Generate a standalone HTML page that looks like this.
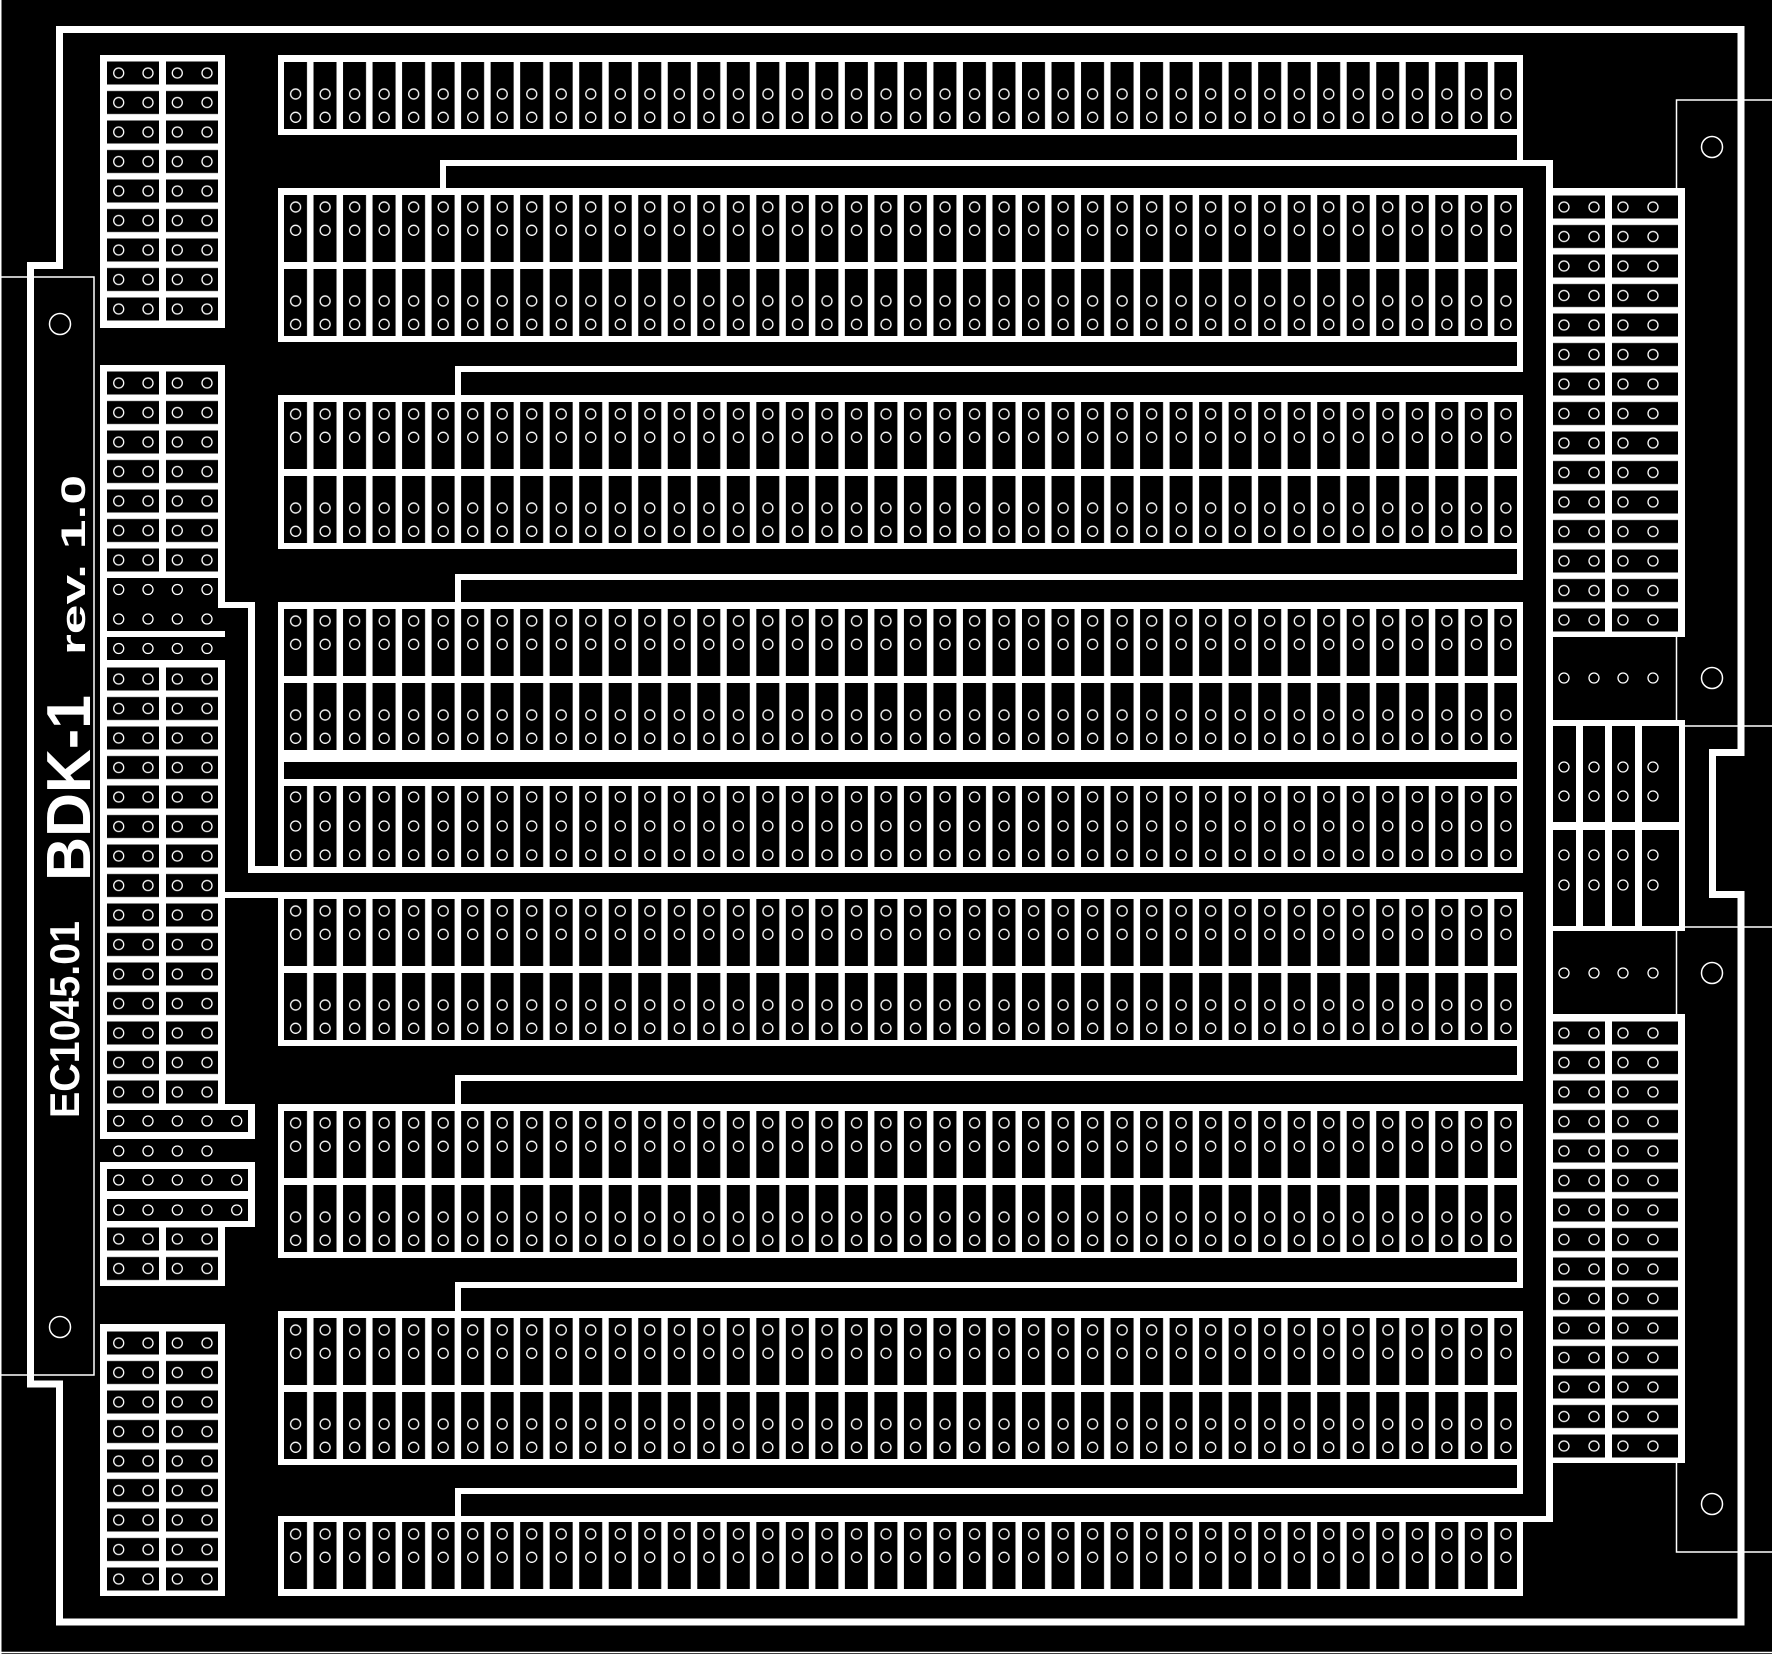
<!DOCTYPE html>
<html><head><meta charset="utf-8"><style>html,body{margin:0;padding:0;background:#000}svg{display:block}</style></head>
<body>
<svg xmlns="http://www.w3.org/2000/svg" width="1772" height="1654" viewBox="0 0 1772 1654">
<defs>
<pattern id="c" patternUnits="userSpaceOnUse" x="284" y="0" width="29.52" height="10"><rect x="0" y="0" width="23" height="10" fill="#000"/></pattern>
<pattern id="h" patternUnits="userSpaceOnUse" x="284" y="0" width="29.52" height="23.3"><circle cx="11.6" cy="11.65" r="5" fill="none" stroke="#fff" stroke-width="1.3"/></pattern>
<pattern id="h3" patternUnits="userSpaceOnUse" x="284" y="0" width="29.52" height="29"><circle cx="11.6" cy="14.5" r="5" fill="none" stroke="#fff" stroke-width="1.3"/></pattern>
<pattern id="lp" patternUnits="userSpaceOnUse" x="107" y="0" width="300" height="29.5">
<rect x="0" y="3.25" width="52" height="23" fill="#000"/><rect x="59" y="3.25" width="52" height="23" fill="#000"/>
<g fill="none" stroke="#fff" stroke-width="1.3"><circle cx="11.7" cy="14.75" r="5"/><circle cx="41" cy="14.75" r="5"/><circle cx="70.3" cy="14.75" r="5"/><circle cx="100" cy="14.75" r="5"/></g></pattern>
<pattern id="rp" patternUnits="userSpaceOnUse" x="1553" y="0" width="300" height="29.5">
<rect x="0" y="3.25" width="52" height="23" fill="#000"/><rect x="59" y="3.25" width="66" height="23" fill="#000"/>
<g fill="none" stroke="#fff" stroke-width="1.3"><circle cx="11" cy="14.75" r="5"/><circle cx="41" cy="14.75" r="5"/><circle cx="70" cy="14.75" r="5"/><circle cx="100" cy="14.75" r="5"/></g></pattern>
</defs>
<rect width="1772" height="1654" fill="#000"/>
<g stroke="#fff" stroke-width="1.5" fill="none">
<line x1="0.75" y1="0" x2="0.75" y2="1654"/>
<line x1="0" y1="1652.5" x2="1772" y2="1652.5"/>
<polyline points="0,277 94,277 94,1375 0,1375"/>
<polyline points="1772,100 1676.5,100 1676.5,726 1772,726"/>
<polyline points="1772,927 1676.5,927 1676.5,1552 1772,1552"/>
<circle cx="60" cy="324" r="10.5"/><circle cx="60" cy="1327" r="10.5"/>
<circle cx="1712" cy="147" r="10.5"/><circle cx="1712" cy="678" r="10.5"/><circle cx="1712" cy="973" r="10.5"/><circle cx="1712" cy="1504" r="10.5"/>
</g>
<polygon points="59.5,29.5 1741,29.5 1741,752.5 1712.5,752.5 1712.5,894.5 1741,894.5 1741,1622 59.5,1622 59.5,1384 30.5,1384 30.5,265.5 59.5,265.5" fill="none" stroke="#fff" stroke-width="7"/>

<g fill="#fff">
<rect x="440" y="160" width="1113" height="6"/><rect x="440" y="160" width="6" height="28"/><rect x="1546" y="160" width="7" height="1362"/>
<rect x="1517" y="135" width="6" height="31"/>
<rect x="1517" y="342" width="6" height="30"/><rect x="455" y="366" width="1068" height="6"/><rect x="455" y="366" width="6" height="29"/>
<rect x="1517" y="549" width="6" height="31"/><rect x="455" y="574" width="1068" height="6"/><rect x="455" y="574" width="6" height="28"/>
<rect x="1517" y="1046" width="6" height="35"/><rect x="455" y="1075" width="1068" height="6"/><rect x="455" y="1075" width="6" height="29"/>
<rect x="1517" y="1258" width="6" height="30"/><rect x="455" y="1282" width="1068" height="6"/><rect x="455" y="1282" width="6" height="29"/>
<rect x="1517" y="1465" width="6" height="29"/><rect x="455" y="1488" width="1068" height="6"/><rect x="455" y="1488" width="6" height="29"/>
<rect x="278" y="1516" width="1275" height="6"/>
<rect x="248" y="866" width="36" height="7"/><rect x="248" y="602" width="7" height="271"/><rect x="218" y="602" width="37" height="6"/>
<rect x="225" y="892" width="53" height="6"/>
<rect x="278" y="55" width="1245" height="80"/>
<rect x="278" y="188" width="1245" height="154"/>
<rect x="278" y="395" width="1245" height="154"/>
<rect x="278" y="602" width="1245" height="154"/>
<rect x="278" y="756" width="1245" height="117"/>
<rect x="278" y="892" width="1245" height="154"/>
<rect x="278" y="1104" width="1245" height="154"/>
<rect x="278" y="1311" width="1245" height="154"/>
<rect x="278" y="1516" width="1245" height="80"/>
<rect x="1546" y="188" width="139" height="449"/>
<rect x="1546" y="720" width="139" height="211"/>
<rect x="1546" y="1014" width="139" height="449"/>
<rect x="100" y="55" width="125" height="273"/>
<rect x="100" y="365" width="125" height="272"/>
<rect x="100" y="637" width="7" height="23"/>
<rect x="100" y="660" width="125" height="444"/>
<rect x="100" y="1104" width="155" height="35"/>
<rect x="100" y="1162" width="155" height="65"/>
<rect x="100" y="1227" width="125" height="59"/>
<rect x="100" y="1324" width="125" height="272"/>
</g>

<g>
<rect x="284" y="62" width="1233" height="67" fill="url(#c)"/>
<rect x="284" y="195" width="1233" height="67" fill="url(#c)"/><rect x="284" y="269" width="1233" height="67" fill="url(#c)"/>
<rect x="284" y="402" width="1233" height="67" fill="url(#c)"/><rect x="284" y="476" width="1233" height="67" fill="url(#c)"/>
<rect x="284" y="609" width="1233" height="67" fill="url(#c)"/><rect x="284" y="683" width="1233" height="67" fill="url(#c)"/>
<rect x="284" y="762" width="1233" height="17" fill="#000"/>
<rect x="284" y="786" width="1233" height="81" fill="url(#c)"/>
<rect x="284" y="899" width="1233" height="67" fill="url(#c)"/><rect x="284" y="973" width="1233" height="67" fill="url(#c)"/>
<rect x="284" y="1111" width="1233" height="67" fill="url(#c)"/><rect x="284" y="1185" width="1233" height="67" fill="url(#c)"/>
<rect x="284" y="1318" width="1233" height="67" fill="url(#c)"/><rect x="284" y="1392" width="1233" height="67" fill="url(#c)"/>
<rect x="284" y="1522" width="1233" height="67" fill="url(#c)"/>
</g>
<g>
<g transform="translate(0,82.35)"><rect x="284" y="0" width="1240" height="46.6" fill="url(#h)"/></g>
<g transform="translate(0,195.35)"><rect x="284" y="0" width="1240" height="46.6" fill="url(#h)"/></g>
<g transform="translate(0,289.35)"><rect x="284" y="0" width="1240" height="46.6" fill="url(#h)"/></g>
<g transform="translate(0,402.35)"><rect x="284" y="0" width="1240" height="46.6" fill="url(#h)"/></g>
<g transform="translate(0,496.35)"><rect x="284" y="0" width="1240" height="46.6" fill="url(#h)"/></g>
<g transform="translate(0,609.35)"><rect x="284" y="0" width="1240" height="46.6" fill="url(#h)"/></g>
<g transform="translate(0,703.35)"><rect x="284" y="0" width="1240" height="46.6" fill="url(#h)"/></g>
<g transform="translate(0,782.5)"><rect x="284" y="0" width="1240" height="87" fill="url(#h3)"/></g>
<g transform="translate(0,899.35)"><rect x="284" y="0" width="1240" height="46.6" fill="url(#h)"/></g>
<g transform="translate(0,993.35)"><rect x="284" y="0" width="1240" height="46.6" fill="url(#h)"/></g>
<g transform="translate(0,1111.35)"><rect x="284" y="0" width="1240" height="46.6" fill="url(#h)"/></g>
<g transform="translate(0,1205.35)"><rect x="284" y="0" width="1240" height="46.6" fill="url(#h)"/></g>
<g transform="translate(0,1318.35)"><rect x="284" y="0" width="1240" height="46.6" fill="url(#h)"/></g>
<g transform="translate(0,1412.35)"><rect x="284" y="0" width="1240" height="46.6" fill="url(#h)"/></g>
<g transform="translate(0,1522.35)"><rect x="284" y="0" width="1240" height="46.6" fill="url(#h)"/></g>
</g>

<g transform="translate(0,192.25)"><rect x="1553" y="0" width="126" height="442.5" fill="url(#rp)"/></g>
<g transform="translate(0,1018.25)"><rect x="1553" y="0" width="126" height="442.5" fill="url(#rp)"/></g>
<g fill="#000">
<rect x="1553" y="726" width="23" height="96"/><rect x="1583" y="726" width="22" height="96"/><rect x="1612" y="726" width="23" height="96"/><rect x="1642" y="726" width="37" height="96"/>
<rect x="1553" y="830" width="23" height="96"/><rect x="1583" y="830" width="22" height="96"/><rect x="1612" y="830" width="23" height="96"/><rect x="1642" y="830" width="37" height="96"/>
</g>
<g fill="none" stroke="#fff" stroke-width="1.3">
<circle cx="1564" cy="678" r="5"/><circle cx="1594" cy="678" r="5"/><circle cx="1623" cy="678" r="5"/><circle cx="1653" cy="678" r="5"/>
<circle cx="1564" cy="973" r="5"/><circle cx="1594" cy="973" r="5"/><circle cx="1623" cy="973" r="5"/><circle cx="1653" cy="973" r="5"/>
<circle cx="1564" cy="767" r="5"/><circle cx="1594" cy="767" r="5"/><circle cx="1623" cy="767" r="5"/><circle cx="1653" cy="767" r="5"/>
<circle cx="1564" cy="796" r="5"/><circle cx="1594" cy="796" r="5"/><circle cx="1623" cy="796" r="5"/><circle cx="1653" cy="796" r="5"/>
<circle cx="1564" cy="855" r="5"/><circle cx="1594" cy="855" r="5"/><circle cx="1623" cy="855" r="5"/><circle cx="1653" cy="855" r="5"/>
<circle cx="1564" cy="885" r="5"/><circle cx="1594" cy="885" r="5"/><circle cx="1623" cy="885" r="5"/><circle cx="1653" cy="885" r="5"/>
</g>

<g transform="translate(0,58.25)"><rect x="107" y="0" width="111" height="265.5" fill="url(#lp)"/></g>
<g transform="translate(0,368.25)"><rect x="107" y="0" width="111" height="206.5" fill="url(#lp)"/></g>
<g transform="translate(0,664.25)"><rect x="107" y="0" width="111" height="442.5" fill="url(#lp)"/></g>
<g transform="translate(0,1224.25)"><rect x="107" y="0" width="111" height="59" fill="url(#lp)"/></g>
<g transform="translate(0,1328.25)"><rect x="107" y="0" width="111" height="265.5" fill="url(#lp)"/></g>
<g fill="#000">
<rect x="107" y="578" width="111" height="53"/><rect x="218" y="608" width="7" height="23"/>
<rect x="107" y="637" width="141" height="23"/>
<rect x="107" y="1110" width="141" height="22"/>
<rect x="107" y="1169" width="141" height="22"/><rect x="107" y="1199" width="141" height="22"/>
</g>
<g fill="none" stroke="#fff" stroke-width="1.3">
<circle cx="118.7" cy="589.5" r="5"/><circle cx="148" cy="589.5" r="5"/><circle cx="177.3" cy="589.5" r="5"/><circle cx="207" cy="589.5" r="5"/>
<circle cx="118.7" cy="619" r="5"/><circle cx="148" cy="619" r="5"/><circle cx="177.3" cy="619" r="5"/><circle cx="207" cy="619" r="5"/>
<circle cx="118.7" cy="648.5" r="5"/><circle cx="148" cy="648.5" r="5"/><circle cx="177.3" cy="648.5" r="5"/><circle cx="207" cy="648.5" r="5"/>
<circle cx="118.7" cy="1121" r="5"/><circle cx="148" cy="1121" r="5"/><circle cx="177.3" cy="1121" r="5"/><circle cx="207" cy="1121" r="5"/><circle cx="236.7" cy="1121" r="5"/>
<circle cx="118.7" cy="1151" r="5"/><circle cx="148" cy="1151" r="5"/><circle cx="177.3" cy="1151" r="5"/><circle cx="207" cy="1151" r="5"/>
<circle cx="118.7" cy="1180" r="5"/><circle cx="148" cy="1180" r="5"/><circle cx="177.3" cy="1180" r="5"/><circle cx="207" cy="1180" r="5"/><circle cx="236.7" cy="1180" r="5"/>
<circle cx="118.7" cy="1210" r="5"/><circle cx="148" cy="1210" r="5"/><circle cx="177.3" cy="1210" r="5"/><circle cx="207" cy="1210" r="5"/><circle cx="236.7" cy="1210" r="5"/>
</g>

<g fill="#fff" font-family="Liberation Sans, sans-serif" font-weight="bold">
<text transform="translate(79,1118) rotate(-90)" font-size="42" textLength="197" lengthAdjust="spacingAndGlyphs">EC1045.01</text>
<text transform="translate(90,881) rotate(-90)" font-size="62" textLength="186" lengthAdjust="spacingAndGlyphs">BDK-1</text>
<text transform="translate(85,655) rotate(-90)" font-size="34" textLength="180" lengthAdjust="spacingAndGlyphs">rev. 1.0</text>
</g>
</svg>
</body></html>
